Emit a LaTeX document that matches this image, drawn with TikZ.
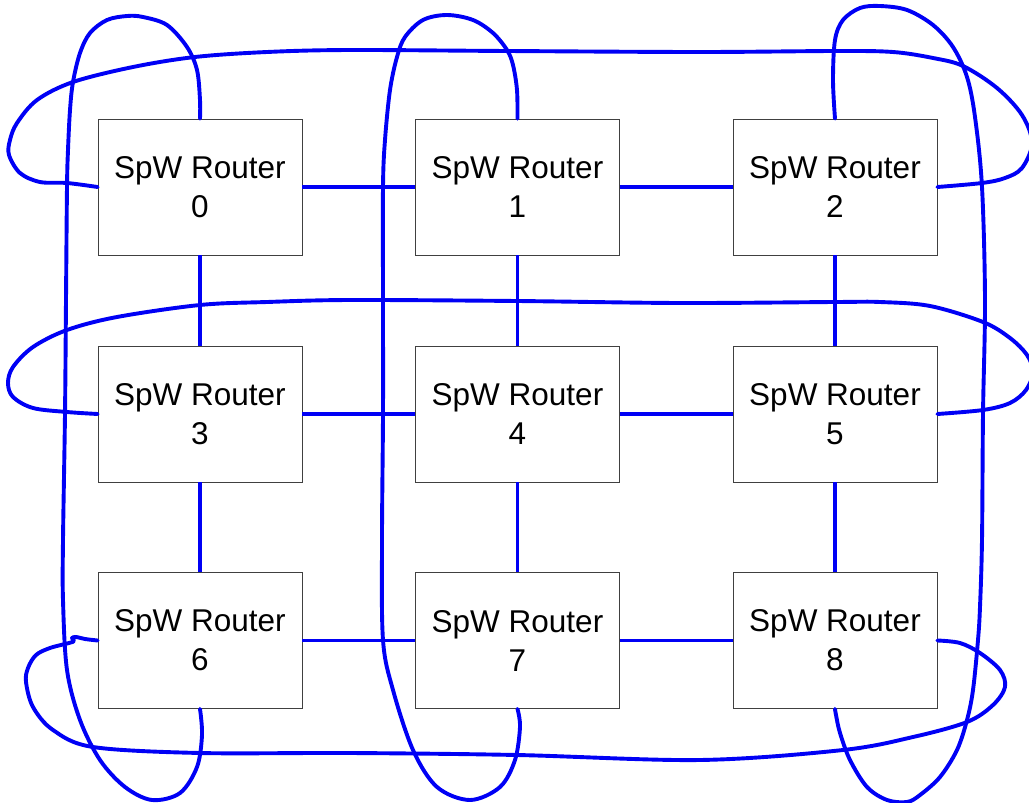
\documentclass[tikz,border=0pt]{standalone}
\usepackage{fontspec}
\setmainfont{Liberation Sans}
\begin{document}
\begin{tikzpicture}[x=1pt,y=-1pt,
  router/.style={draw=black!75,line width=0.8pt,minimum width=204pt,minimum height=136pt,
    align=center,inner sep=0pt,font=\fontsize{31.5}{39}\selectfont,text=black},
  wire/.style={draw={rgb,255:red,0;green,0;blue,245},line width=3.9pt,line join=round,line cap=round},
  loopw/.style={wire,smooth,tension=0.55}]
\useasboundingbox (0,0) rectangle (1029,803);
\node[router] (n0) at (200,187) {SpW Router\\0};
\node[router] (n1) at (517.5,187) {SpW Router\\1};
\node[router] (n2) at (835,187) {SpW Router\\2};
\node[router] (n3) at (200,414) {SpW Router\\3};
\node[router] (n4) at (517.5,414) {SpW Router\\4};
\node[router] (n5) at (835,414) {SpW Router\\5};
\node[router] (n6) at (200,640.5) {SpW Router\\6};
\node[router] (n7) at (517.5,640.5) {SpW Router\\7};
\node[router] (n8) at (835,640.5) {SpW Router\\8};
% mesh links
\draw[wire,line cap=butt] (n0) -- (n1);
\draw[wire,line cap=butt] (n1) -- (n2);
\draw[wire,line cap=butt] (n3) -- (n4);
\draw[wire,line cap=butt] (n4) -- (n5);
\draw[wire,line cap=butt] (n6) -- (n7);
\draw[wire,line cap=butt] (n7) -- (n8);
\draw[wire,line cap=butt] (n0) -- (n3);
\draw[wire,line cap=butt] (n3) -- (n6);
\draw[wire,line cap=butt] (n1) -- (n4);
\draw[wire,line cap=butt] (n4) -- (n7);
\draw[wire,line cap=butt] (n2) -- (n5);
\draw[wire,line cap=butt] (n5) -- (n8);
% row wrap-arounds
\draw[loopw] plot coordinates {(n0.west) (67,183) (40,182) (20,173) (9,155) (10,140) (17,123) (37,100) (73,82) (133,67) (195,57) (267,52) (350,50) (507,51) (700,52) (837,51) (893,52) (933,58) (963,66) (997,88) (1022,115) (1032,143) (1022,168) (1005,178) (982,183) (n2.east)};
\draw[loopw] plot coordinates {(n3.west) (67,412) (33,408) (13,397) (8,383) (13,367) (33,347) (67,330) (117,317) (200,305) (267,302) (350,300) (517,301) (680,303) (835,302) (880,302) (930,306) (983,322) (1010,338) (1027,355) (1033,372) (1026,390) (1010,403) (983,410) (n5.east)};
\draw[loopw] plot coordinates {(n6.west) (85,639) (76,637) (72,638) (74,641) (69,643) (50,648) (36,655) (28,668) (26,682) (33,707) (53,730) (93,747) (200,753) (350,753) (517,755) (700,760) (843,750) (913,737) (967,722) (993,705) (1005,687) (1000,670) (980,653) (960,643) (n8.east)};
% column wrap-arounds
\draw[loopw] plot coordinates {(n0.north) (200,100) (197,70) (187,47) (167,25) (143,17) (127,16) (107,20) (90,33) (80,53) (73,82) (70,110) (68,150) (67,187) (66,300) (65,414) (63,540) (63,600) (67,670) (80,720) (100,760) (125,787) (152,800) (180,793) (197,767) (202,735) (n6.south)};
\draw[loopw] plot coordinates {(n1.north) (517,90) (513,65) (507,50) (493,33) (473,20) (447,15) (423,20) (405,37) (397,57) (390,90) (385,140) (383,187) (383,300) (383,414) (382,540) (383,640) (393,690) (413,750) (437,787) (470,800) (500,787) (515,760) (520,727) (n7.south)};
\draw[loopw] plot coordinates {(n2.north) (833,80) (835,40) (843,20) (860,8) (880,6) (907,10) (933,25) (953,47) (967,77) (975,117) (982,187) (985,300) (983,414) (982,540) (980,607) (978,640) (973,690) (967,720) (957,750) (940,777) (920,795) (907,802) (887,800) (867,787) (850,760) (840,733) (836,715) (n8.south)};
\end{tikzpicture}
\end{document}
